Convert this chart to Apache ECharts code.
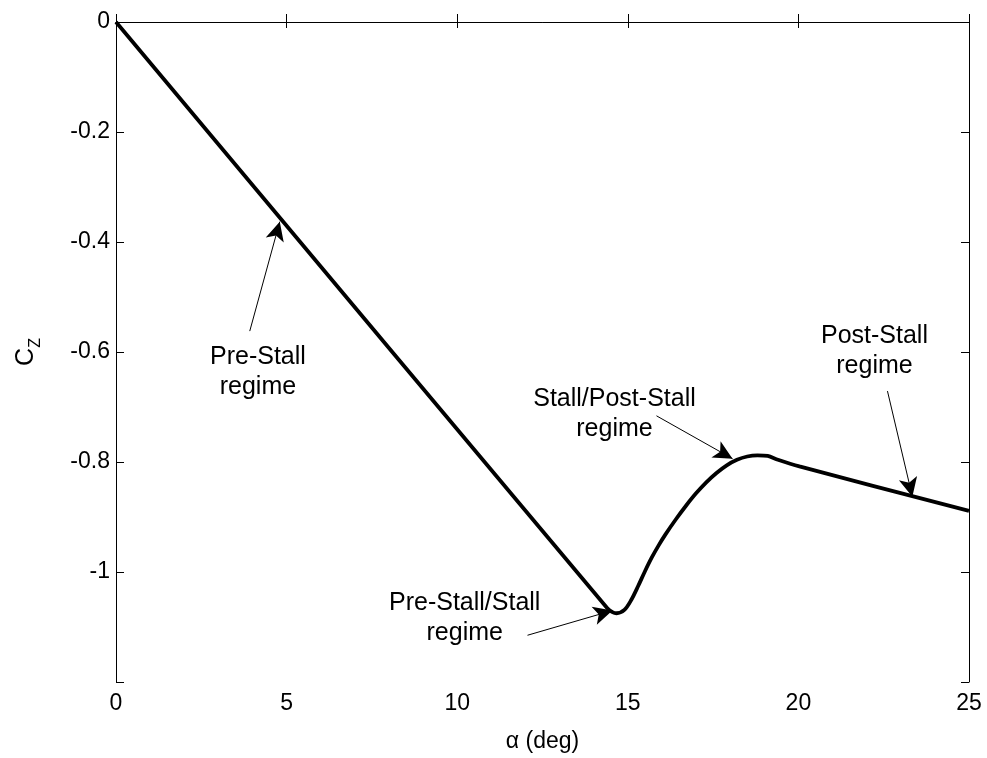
<!DOCTYPE html>
<html>
<head>
<meta charset="utf-8">
<script src="https://cdn.jsdelivr.net/npm/echarts@6/dist/echarts.min.js"></script>
<style>
html,body{margin:0;padding:0;background:#fff;}
#chart{width:987px;height:758px;}
</style>
</head>
<body>
<div id="chart"></div>
<script>
// Data
var alpha = [0, 14.40, 14.55, 14.67, 14.90, 15.10, 15.30, 15.50, 15.70, 15.90, 16.10, 16.40, 16.70, 17.00, 17.30, 17.60, 17.90, 18.20, 18.50, 18.80, 19.10, 19.40, 20.03, 25];
var cz    = [0, -1.066, -1.073, -1.075, -1.069, -1.051, -1.026, -0.999, -0.974, -0.952, -0.932, -0.905, -0.880, -0.857, -0.837, -0.820, -0.806, -0.796, -0.790, -0.788, -0.789, -0.796, -0.808, -0.889];

var xTicks = [0, 5, 10, 15, 20, 25];
var yTicks = [0, -0.2, -0.4, -0.6, -0.8, -1];

// annotations: text anchor and arrow (from -> to) in data coordinates
var annText = ['Pre-Stall\nregime', 'Pre-Stall/Stall\nregime', 'Stall/Post-Stall\nregime', 'Post-Stall\nregime'];
var annTextPos = [[4.16, -0.636], [10.22, -1.084], [14.61, -0.713], [22.23, -0.598]];
var arrowFrom = [[3.92, -0.562], [12.06, -1.115], [15.84, -0.716], [22.61, -0.671]];
var arrowTo   = [[4.80, -0.363], [14.55, -1.070], [18.07, -0.794], [23.34, -0.863]];

var FONT = '"Liberation Sans", Arial, sans-serif';

var lineData = alpha.map(function (a, i) { return [a, cz[i]]; });

var markLines = arrowFrom.map(function (f, i) {
  return [{ coord: f }, { coord: arrowTo[i] }];
});
var markPoints = annText.map(function (t, i) {
  return { coord: annTextPos[i], value: t };
});

function fmtY(v) {
  if (Math.abs(v + 1.2) < 1e-9) return '';
  return String(parseFloat(v.toFixed(1)));
}

var chart = echarts.init(document.getElementById('chart'), null, { renderer: 'canvas' });
chart.setOption({
  animation: false,
  backgroundColor: '#ffffff',
  grid: { left: 116, right: 18, top: 22, bottom: 72, containLabel: false },
  xAxis: [{
    type: 'value', min: 0, max: 25, interval: 5, position: 'bottom',
    name: 'α (deg)', nameLocation: 'middle', nameGap: 48,
    nameTextStyle: { fontFamily: FONT, fontSize: 23, color: '#000' },
    axisLine: { show: true, lineStyle: { color: '#000', width: 1 } },
    axisTick: { show: true, inside: true, length: 8, lineStyle: { color: '#000' } },
    axisLabel: { fontFamily: FONT, fontSize: 23, color: '#000', margin: 10 },
    splitLine: { show: false }
  }, {
    type: 'value', min: 0, max: 25, interval: 5, position: 'top',
    axisLine: { show: true, onZero: false, lineStyle: { color: '#000', width: 1 } },
    axisTick: { show: true, inside: true, length: 6, lineStyle: { color: '#000' } },
    axisLabel: { show: false },
    splitLine: { show: false }
  }],
  yAxis: [{
    type: 'value', min: -1.2, max: 0, interval: 0.2, position: 'left',
    name: '{c|C}{z|Z}', nameLocation: 'middle', nameGap: 72, nameRotate: 90,
    nameTextStyle: {
      rich: {
        c: { fontFamily: FONT, fontSize: 25, color: '#000', lineHeight: 30, verticalAlign: 'top' },
        z: { fontFamily: FONT, fontSize: 16, color: '#000', lineHeight: 30, verticalAlign: 'bottom', padding: [12, 0, 0, 0] }
      }
    },
    axisLine: { show: true, onZero: false, lineStyle: { color: '#000', width: 1 } },
    axisTick: { show: true, inside: true, length: 8, lineStyle: { color: '#000' } },
    axisLabel: { fontFamily: FONT, fontSize: 23, color: '#000', margin: 6, formatter: fmtY },
    splitLine: { show: false }
  }, {
    type: 'value', min: -1.2, max: 0, interval: 0.2, position: 'right',
    axisLine: { show: true, onZero: false, lineStyle: { color: '#000', width: 1 } },
    axisTick: { show: true, inside: true, length: 8, lineStyle: { color: '#000' } },
    axisLabel: { show: false },
    splitLine: { show: false }
  }],
  series: [{
    type: 'line',
    data: lineData,
    showSymbol: false,
    smooth: 0.3,
    lineStyle: { color: '#000', width: 3.8 },
    z: 3,
    markLine: {
      silent: true,
      symbol: ['none', 'arrow'],
      symbolSize: [14, 19],
      label: { show: false },
      lineStyle: { color: '#000', width: 1, type: 'solid' },
      data: markLines
    },
    markPoint: {
      silent: true,
      symbol: 'circle',
      symbolSize: 0,
      label: {
        show: true, position: 'inside', formatter: '{c}',
        fontFamily: FONT, fontSize: 25, color: '#000', lineHeight: 30, align: 'center', verticalAlign: 'middle'
      },
      data: markPoints
    }
  }]
});
</script>
</body>
</html>
